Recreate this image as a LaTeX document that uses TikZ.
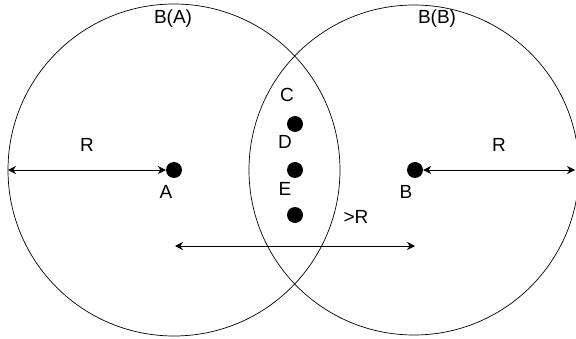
\documentclass[tikz,border=0pt]{standalone}
\usepackage{fontspec}
\setmainfont{Liberation Sans}
\usetikzlibrary{arrows.meta}

\begin{document}
\begin{tikzpicture}[x=1pt, y=-1pt,
    dot/.style={circle, fill=black, inner sep=0pt, minimum size=16pt},
    lbl/.style={font=\fontsize{19}{22}\selectfont},
    dist/.style={{Stealth[length=8pt, width=8pt]}-{Stealth[length=8pt, width=8pt]}, line width=0.8pt}]
        \useasboundingbox (0,0) rectangle (576,339);
        \clip (0,0) rectangle (576,339);
        % the two balls
        \draw[line width=0.7pt] (174,170) circle (166pt);
        \draw[line width=0.7pt] (414,170) circle (165pt);
        \node[lbl] (ballA) at (173,19) {B(A)};
        \node[lbl] (ballB) at (437,19) {B(B)};
        % points
        \node[dot] (A) at (174,170) {};
        \node[dot] (B) at (415,170) {};
        \node[dot] (C) at (295,124) {};
        \node[dot] (D) at (295,170) {};
        \node[dot] (E) at (295,215) {};
        \node[lbl] (labA) at (166,192) {A};
        \node[lbl] (labB) at (406,192) {B};
        \node[lbl] (labC) at (287,95) {C};
        \node[lbl] (labD) at (285,142) {D};
        \node[lbl] (labE) at (285,189) {E};
        % distances
        \coordinate (edgeA) at (8,170);
        \coordinate (edgeB) at (575,170);
        \coordinate (farA) at (175,246);
        \coordinate (farB) at (415,246);
        \draw[dist] (edgeA) -- (A) node[midway, above=15pt, lbl] {R};
        \draw[dist] (B) -- (edgeB) node[midway, above=15pt, lbl] {R};
        \draw[dist] (farA) -- (farB);
        \node[lbl] (gtR) at (356,217) {>R};
      \end{tikzpicture}
\end{document}
